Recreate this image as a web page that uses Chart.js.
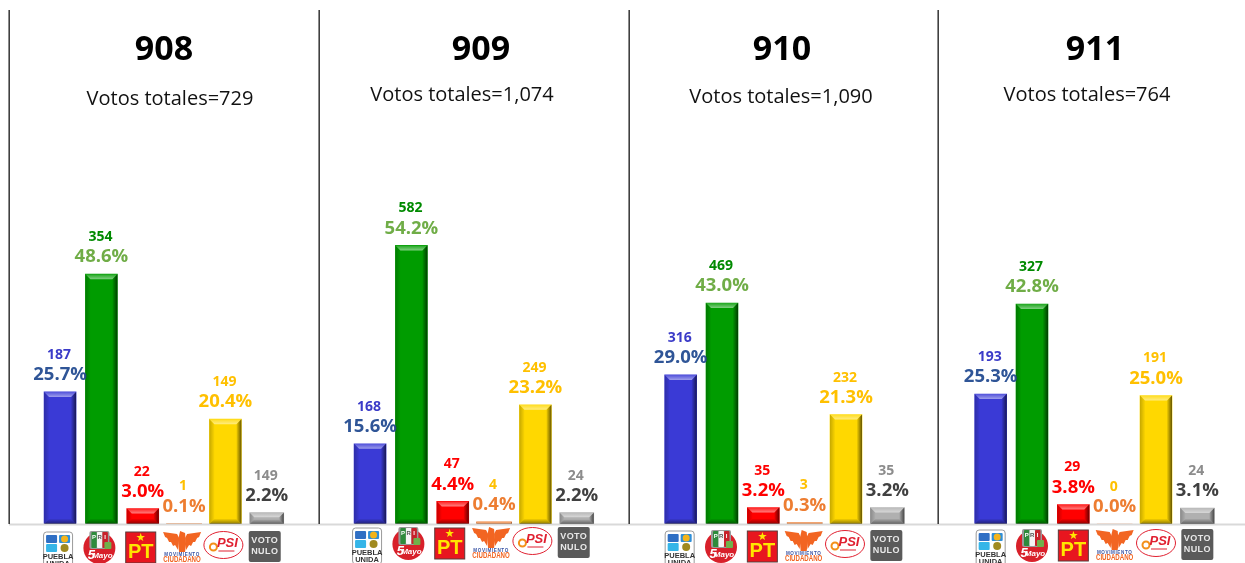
<!DOCTYPE html>
<html lang="es">
<head>
<meta charset="utf-8">
<title>Votos por sección</title>
<script src="https://cdn.jsdelivr.net/npm/chart.js@4"></script>
<style>
    html, body { margin: 0; padding: 0; background: #fff; }
    body { position: relative; width: 1245px; height: 563px; overflow: hidden; }
    .panel { position: absolute; top: 0; height: 563px; }
</style>
</head>
<body>
<div class="panel" style="left:8px;width:311px"><canvas id="g908"></canvas></div>
<div class="panel" style="left:318px;width:311px"><canvas id="g909"></canvas></div>
<div class="panel" style="left:628px;width:310px"><canvas id="g910"></canvas></div>
<div class="panel" style="left:937px;width:308px"><canvas id="g911"></canvas></div>
<script>
// Datos
const secciones = ['908', '909', '910', '911'];
const votosTotales = ['729', '1,074', '1,090', '764'];
const partidos = ['Puebla Unida', 'PRI', 'PT', 'Movimiento Ciudadano', 'PSI', 'Voto nulo'];

const votos908 = [187, 354, 22, 1, 149, 149];
const votos909 = [168, 582, 47, 4, 249, 24];
const votos910 = [316, 469, 35, 3, 232, 35];
const votos911 = [193, 327, 29, 0, 191, 24];

const pct908 = [25.7, 48.6, 3.0, 0.1, 20.4, 2.2];
const pct909 = [15.6, 54.2, 4.4, 0.4, 23.2, 2.2];
const pct910 = [29.0, 43.0, 3.2, 0.3, 21.3, 3.2];
const pct911 = [25.3, 42.8, 3.8, 0.0, 25.0, 3.1];

const votosPorSeccion = [votos908, votos909, votos910, votos911];
const pctPorSeccion = [pct908, pct909, pct910, pct911];

// Colores y ajustes de cada panel
const coloresBarra = ['#3a3ad6', '#009c00', '#ff0000', '#ed7d31', '#ffd800', '#b0b0b0'];
const coloresVotos = ['#3b3bc8', '#008a00', '#ff0000', '#ffc000', '#ffc000', '#8c8c8c'];
const coloresPct = ['#2f5597', '#70ad47', '#ff0000', '#ed7d31', '#ffc000', '#404040'];
const anchosBarra = [32, 32, 32, 35, 32, 34];
const margenIzq = [31.4, 31.4, 32, 33];
const tituloX = [156, 163, 154, 158];
const subtituloX = [162, 144, 153, 150];
const subtituloY = [100, 96, 98, 96];
const logoDx = [-2, -3, -1, 0];
const logoTop = [532, 528, 531, 530];

const FUENTE = '"Open Sans", sans-serif';

function textoCentrado(ctx, txt, x, y, fuente, color, espacio) {
    ctx.font = fuente;
    ctx.fillStyle = color;
    ctx.textAlign = 'center';
    ctx.textBaseline = 'middle';
    ctx.letterSpacing = espacio || '0px';
    ctx.fillText(txt, x, y);
    ctx.letterSpacing = '0px';
}

function rectRedondo(ctx, x, y, w, h, r, relleno, borde) {
    ctx.beginPath();
    ctx.roundRect(x, y, w, h, r);
    ctx.fillStyle = relleno;
    ctx.fill();
    if (borde) {
        ctx.strokeStyle = borde;
        ctx.lineWidth = 1;
        ctx.stroke();
    }
}

function poligono(ctx, puntos, color) {
    ctx.beginPath();
    puntos.forEach(function(p, i) {
        if (i === 0) ctx.moveTo(p[0], p[1]); else ctx.lineTo(p[0], p[1]);
    });
    ctx.closePath();
    ctx.fillStyle = color;
    ctx.fill();
}

function degradado(ctx, x0, y0, x1, y1, c0, c1) {
    const g = ctx.createLinearGradient(x0, y0, x1, y1);
    g.addColorStop(0, c0);
    g.addColorStop(1, c1);
    return g;
}

// Logotipos de los partidos, debajo de cada categoría
function logoPueblaUnida(ctx, x, y) {
    rectRedondo(ctx, x - 14.5, y, 29, 36, 3, '#fff', '#9a9a9a');
    rectRedondo(ctx, x - 12, y + 3, 11, 8, 1, '#2f6fc4');
    rectRedondo(ctx, x - 12, y + 12, 11, 8, 1, '#35b5e8');
    rectRedondo(ctx, x + 1, y + 3, 11, 8, 1, '#2f8fd8');
    ctx.beginPath();
    ctx.arc(x + 6.5, y + 7, 3.5, 0, Math.PI * 2);
    ctx.fillStyle = '#f4b41a';
    ctx.fill();
    ctx.beginPath();
    ctx.arc(x + 6.5, y + 16, 4, 0, Math.PI * 2);
    ctx.fillStyle = '#a08a20';
    ctx.fill();
    textoCentrado(ctx, 'PUEBLA', x, y + 25, 'bold 7.5px "Liberation Sans"', '#333');
    textoCentrado(ctx, 'UNIDA', x, y + 32, 'bold 7.5px "Liberation Sans"', '#333');
}

function logoPRI(ctx, x, y) {
    ctx.beginPath();
    ctx.arc(x, y + 16, 16, 0, Math.PI * 2);
    ctx.fillStyle = '#d8202a';
    ctx.fill();
    rectRedondo(ctx, x - 10, y - 1, 20, 18, 2, '#9a9a9a');
    rectRedondo(ctx, x - 8, y, 5.5, 16, 1, '#2e8b3c');
    rectRedondo(ctx, x - 2.5, y, 5.5, 16, 1, '#f4f4f4');
    rectRedondo(ctx, x + 3, y, 5.5, 16, 1, '#c8202a');
    textoCentrado(ctx, 'P', x - 5.3, y + 5, 'bold 6px "Liberation Sans"', '#fff');
    textoCentrado(ctx, 'R', x + 0.2, y + 5, 'bold 6px "Liberation Sans"', '#555');
    textoCentrado(ctx, 'I', x + 5.7, y + 5, 'bold 6px "Liberation Sans"', '#fff');
    rectRedondo(ctx, x + 5, y + 10, 7, 7, 1, '#6fb04a');
    textoCentrado(ctx, '5', x - 8, y + 23, 'italic bold 13px "Liberation Sans"', '#fff');
    textoCentrado(ctx, 'Mayo', x + 3, y + 24, 'italic bold 8px "Liberation Sans"', '#fff');
}

function logoPT(ctx, x, y) {
    ctx.fillStyle = '#e8161f';
    ctx.fillRect(x - 15, y, 30, 31);
    ctx.strokeStyle = '#5a3a3a';
    ctx.lineWidth = 1;
    ctx.strokeRect(x - 15, y, 30, 31);
    textoCentrado(ctx, '★', x, y + 6, '11px "DejaVu Sans"', '#ffe600');
    textoCentrado(ctx, 'PT', x, y + 20, 'bold 20px "Liberation Sans"', '#ffe600');
}

function logoMC(ctx, x, y) {
    const naranja = '#f26522';
    // alas y cuerpo del águila
    poligono(ctx, [[x - 19, y], [x - 5, y + 2], [x - 3, y + 6], [x - 4, y + 18], [x - 7, y + 13], [x - 9, y + 14],
        [x - 11, y + 10], [x - 13, y + 10], [x - 15, y + 6], [x - 17, y + 5]], naranja);
    poligono(ctx, [[x + 19, y], [x + 5, y + 2], [x + 3, y + 6], [x + 4, y + 18], [x + 7, y + 13], [x + 9, y + 14],
        [x + 11, y + 10], [x + 13, y + 10], [x + 15, y + 6], [x + 17, y + 5]], naranja);
    poligono(ctx, [[x - 2, y - 1], [x + 3, y + 1], [x + 4, y + 12], [x + 3, y + 20], [x - 3, y + 20], [x - 4, y + 8]], naranja);
    textoCentrado(ctx, 'MOVIMIENTO', x, y + 23, 'bold 4.6px "Liberation Sans"', '#3a55a5', '0.6px');
    // CIUDADANO va estrecho, como en el logotipo
    ctx.save();
    ctx.translate(x, y + 28);
    ctx.scale(0.72, 1);
    textoCentrado(ctx, 'CIUDADANO', 0, 0, 'bold 8.5px "Liberation Sans"', '#f26522');
    ctx.restore();
}

function logoPSI(ctx, x, y) {
    ctx.beginPath();
    ctx.ellipse(x, y + 13, 19.5, 13.5, 0, 0, Math.PI * 2);
    ctx.fillStyle = '#fff';
    ctx.fill();
    ctx.strokeStyle = '#e02030';
    ctx.lineWidth = 1;
    ctx.stroke();
    ctx.beginPath();
    ctx.arc(x - 10, y + 15, 3.5, 0, Math.PI * 2);
    ctx.strokeStyle = '#f39019';
    ctx.lineWidth = 2;
    ctx.stroke();
    textoCentrado(ctx, 'PSI', x + 4, y + 11, 'italic bold 13px "Liberation Sans"', '#e02030');
    ctx.fillStyle = 'rgba(224,32,48,0.5)';
    ctx.fillRect(x - 5, y + 18, 16, 2);
}

function logoVotoNulo(ctx, x, y) {
    rectRedondo(ctx, x - 16, y - 1, 32, 31, 2, '#5a5a5a');
    textoCentrado(ctx, 'VOTO', x, y + 9, 'bold 9px "Liberation Sans"', '#e8e8e8', '0.4px');
    textoCentrado(ctx, 'NULO', x, y + 20, 'bold 9px "Liberation Sans"', '#e8e8e8', '0.4px');
}

const dibujaLogo = [logoPueblaUnida, logoPRI, logoPT, logoMC, logoPSI, logoVotoNulo];

// Plugin: líneas del panel, encabezado, relieve de barras, etiquetas y logos
const pluginPanel = {
    id: 'panel',
    beforeDatasetsDraw: function(chart) {
        // cada partido tiene su propio ancho de barra
        chart.getDatasetMeta(0).data.forEach(function(el, i) { el.width = anchosBarra[i]; });
    },
    afterDatasetsDraw: function(chart, args, opts) {
        const ctx = chart.ctx;
        const area = chart.chartArea;
        const ds = chart.data.datasets[0];

        ctx.save();
        // línea base y separador vertical
        ctx.strokeStyle = '#d9d9d9';
        ctx.lineWidth = 2;
        ctx.beginPath();
        ctx.moveTo(1, area.bottom + 0.5);
        ctx.lineTo(chart.width, area.bottom + 0.5);
        ctx.stroke();
        ctx.strokeStyle = '#404040';
        ctx.lineWidth = 1.6;
        ctx.beginPath();
        ctx.moveTo(1.2, area.top);
        ctx.lineTo(1.2, area.bottom);
        ctx.stroke();

        textoCentrado(ctx, secciones[opts.indice], tituloX[opts.indice], 50, 'bold 34px ' + FUENTE, '#000');
        textoCentrado(ctx, 'Votos totales=' + votosTotales[opts.indice], subtituloX[opts.indice],
            subtituloY[opts.indice] - 1, '20px ' + FUENTE, '#111');

        chart.getDatasetMeta(0).data.forEach(function(el, i) {
            const izq = el.x - el.width / 2;
            const der = el.x + el.width / 2;
            const alto = el.base - el.y;
            const b = Math.min(5, alto / 2.5);
            if (alto > 0) {
                poligono(ctx, [[izq, el.y], [der, el.y], [der - b, el.y + b], [izq + b, el.y + b]],
                    degradado(ctx, 0, el.y, 0, el.y + b, 'rgba(255,255,255,0.12)', 'rgba(255,255,255,0.5)'));
                poligono(ctx, [[izq, el.y], [izq + b, el.y + b], [izq + b, el.base - b], [izq, el.base]],
                    degradado(ctx, izq, 0, izq + b, 0, 'rgba(0,0,0,0.22)', 'rgba(0,0,0,0.02)'));
                poligono(ctx, [[der, el.y], [der - b, el.y + b], [der - b, el.base - b], [der, el.base]],
                    degradado(ctx, der - b, 0, der, 0, 'rgba(0,0,0,0.05)', 'rgba(0,0,0,0.6)'));
                poligono(ctx, [[izq, el.base], [izq + b, el.base - b], [der - b, el.base - b], [der, el.base]],
                    degradado(ctx, 0, el.base - b, 0, el.base, 'rgba(0,0,0,0.05)', 'rgba(0,0,0,0.45)'));
            }
            // etiquetas: votos arriba, porcentaje abajo
            textoCentrado(ctx, String(ds.votos[i]), el.x - 1, el.y - 37, 'bold 14px ' + FUENTE, coloresVotos[i]);
            textoCentrado(ctx, ds.data[i].toFixed(1) + '%', el.x, el.y - 17, 'bold 18.5px ' + FUENTE, coloresPct[i]);
        });

        // logos alineados con las marcas del eje x
        const escalaX = chart.scales.x;
        escalaX.ticks.forEach(function(t, i) {
            dibujaLogo[i](ctx, escalaX.getPixelForTick(i) + logoDx[opts.indice], logoTop[opts.indice]);
        });
        ctx.restore();
    }
};

function crearPanel(indice) {
    const canvas = document.getElementById('g' + secciones[indice]);
    const ancho = canvas.parentNode.offsetWidth;
    canvas.width = ancho;
    canvas.height = 563;
    new Chart(canvas.getContext('2d'), {
        type: 'bar',
        data: {
            labels: partidos,
            datasets: [{
                label: 'Sección ' + secciones[indice],
                data: pctPorSeccion[indice],
                votos: votosPorSeccion[indice],
                backgroundColor: coloresBarra,
                barThickness: 32,
                borderWidth: 0
            }]
        },
        options: {
            responsive: false,
            animation: false,
            layout: {
                padding: {
                    left: margenIzq[indice],
                    right: ancho - margenIzq[indice] - 248,
                    top: 10,
                    bottom: 39
                }
            },
            scales: {
                x: {
                    grid: { display: false, drawTicks: false },
                    border: { display: false },
                    ticks: { display: false, padding: 0 }
                },
                y: { display: false, min: 0, max: 100 }
            },
            plugins: {
                legend: { display: false },
                tooltip: { enabled: false },
                panel: { indice: indice }
            }
        },
        plugins: [pluginPanel]
    });
}

document.addEventListener('DOMContentLoaded', function() {
    secciones.forEach(function(s, i) { crearPanel(i); });
});
</script>
</body>
</html>
